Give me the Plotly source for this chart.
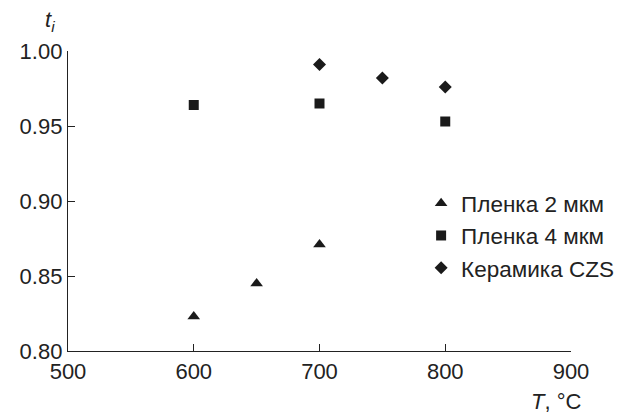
import plotly.graph_objects as go

T_film2 = [600, 650, 700]
t_film2 = [0.823, 0.845, 0.871]
T_film4 = [600, 700, 800]
t_film4 = [0.964, 0.965, 0.953]
T_ceram = [700, 750, 800]
t_ceram = [0.991, 0.982, 0.976]

names = ["Пленка 2 мкм", "Пленка 4 мкм", "Керамика CZS"]
x_ticks = [500, 600, 700, 800, 900]
y_ticks = [0.80, 0.85, 0.90, 0.95, 1.00]

FONT = "Liberation Sans, Arial, sans-serif"
INK = "#222"
fig = go.Figure()
fig.add_trace(go.Scatter(x=T_film2, y=t_film2, mode="markers", name=names[0],
                         marker=dict(symbol="triangle-up", size=11, color="#1a1a1a")))
fig.add_trace(go.Scatter(x=T_film4, y=t_film4, mode="markers", name=names[1],
                         marker=dict(symbol="square", size=10, color="#1a1a1a")))
fig.add_trace(go.Scatter(x=T_ceram, y=t_ceram, mode="markers", name=names[2],
                         marker=dict(symbol="diamond", size=10, color="#1a1a1a")))

fig.update_layout(
    width=625, height=405,
    margin=dict(l=57, r=62, t=43, b=62),
    plot_bgcolor="white", paper_bgcolor="white",
    font=dict(family=FONT, size=22, color=INK),
    showlegend=True,
    legend=dict(x=0.702, y=0.563, xanchor="left", yanchor="top",
                font=dict(family=FONT, size=22.5, color=INK),
                bgcolor="rgba(0,0,0,0)", itemwidth=30, tracegroupgap=0),
    xaxis=dict(range=[500, 900], tickvals=x_ticks, ticktext=[str(v) for v in x_ticks],
               showgrid=False, zeroline=False, showline=True, linecolor=INK, linewidth=1.3,
               ticks="inside", ticklen=7, tickcolor=INK, tickwidth=1.3,
               tickfont=dict(family=FONT, size=22, color=INK)),
    yaxis=dict(range=[0.80, 1.00], tickvals=y_ticks, ticktext=[f"{v:.2f}" for v in y_ticks],
               showgrid=False, zeroline=False, showline=True, linecolor=INK, linewidth=1.3,
               ticks="inside", ticklen=7, tickcolor=INK, tickwidth=1.3,
               tickfont=dict(family=FONT, size=22, color=INK)),
    annotations=[
        dict(text="<i>t</i><sub><i>i</i></sub>", xref="paper", yref="paper",
             x=-0.036, y=1.0, xanchor="center", yanchor="bottom", yshift=14, showarrow=False,
             font=dict(family=FONT, size=22, color=INK)),
        dict(text="<i>T</i>, °C", xref="paper", yref="paper",
             x=1.0, y=0, xanchor="right", yanchor="middle", yshift=-50, xshift=12, showarrow=False,
             font=dict(family=FONT, size=22, color=INK)),
    ],
)
fig.write_html("out.html")
